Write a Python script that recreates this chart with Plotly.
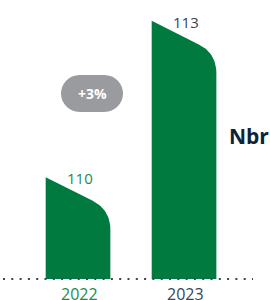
import numpy as np
import plotly.graph_objects as go

years = ["2022", "2023"]
values = [110, 113]
label_colors = ["#1f8a4c", "#34465a"]
change_label = "+3%"
unit_label = "Nbr"

GREEN = "#007A3E"
W, H = 270, 300
ML, MR, MT, MB = 0, 0, 0, 21
XR = [-0.736, 1.811]
YR = [108.05, 113.4]
px_x = (W - ML - MR) / (XR[1] - XR[0])
px_y = (H - MT - MB) / (YR[1] - YR[0])

fig = go.Figure()
bw = 0.61
slope = 0.5 * px_x / px_y  # y units per x unit
for i, (yr, v) in enumerate(zip(years, values)):
    c = i
    L, R = c - bw / 2, c + bw / 2
    base = YR[0]
    xs = [L, L]
    ys = [base, v]
    sx = L + 0.72 * bw
    sy = v - slope * 0.72 * bw
    cx, cy = R, v - slope * bw
    ex, ey = R, cy - 20 / px_y
    t = np.linspace(0, 1, 24)
    bx = (1 - t) ** 2 * sx + 2 * (1 - t) * t * cx + t ** 2 * ex
    by = (1 - t) ** 2 * sy + 2 * (1 - t) * t * cy + t ** 2 * ey
    xs += list(bx) + [R, L]
    ys += list(by) + [base, base]
    fig.add_trace(go.Scatter(x=xs, y=ys, fill="toself", fillcolor=GREEN,
                             mode="lines", line=dict(width=0, color=GREEN),
                             hoverinfo="skip", showlegend=False))
    fig.add_annotation(x=c, y=v, text=str(v), showarrow=False, xshift=2, yshift=-1,
                       xanchor="center", yanchor="middle",
                       font=dict(size=15, color=label_colors[i], family="Open Sans"))
    fig.add_annotation(x=c, y=0, yref="paper", text=yr, showarrow=False, xshift=1,
                       xanchor="center", yanchor="top", yshift=-2,
                       font=dict(size=16, color=label_colors[i], family="Open Sans"))

# dotted baseline
fig.add_shape(type="line", xref="paper", yref="paper", x0=3 / W, x1=253 / W, y0=0, y1=0,
              line=dict(color="#34465a", width=2, dash="2px,6.3px"))

# pill
r, hw = 18.5, 12.5
k = 0.5523 * r
path = (f"M {-hw},{-r} L {hw},{-r} "
        f"C {hw + k},{-r} {hw + r},{-k} {hw + r},0 "
        f"C {hw + r},{k} {hw + k},{r} {hw},{r} "
        f"L {-hw},{r} "
        f"C {-hw - k},{r} {-hw - r},{k} {-hw - r},0 "
        f"C {-hw - r},{-k} {-hw - k},{-r} {-hw},{-r} Z")
pcx, pcy = 92, 93.5
fig.add_shape(type="path", xref="paper", yref="paper", xsizemode="pixel", ysizemode="pixel",
              xanchor=(pcx - ML) / (W - ML - MR), yanchor=1 - (pcy - MT) / (H - MT - MB),
              path=path, fillcolor="#9a9b9f", line=dict(width=0), layer="above")
fig.add_annotation(xref="paper", yref="paper", x=(pcx - ML) / (W - ML - MR),
                   y=1 - (pcy - MT) / (H - MT - MB), text=f"<b>{change_label}</b>", showarrow=False,
                   xanchor="center", yanchor="middle",
                   font=dict(size=14, color="white", family="Open Sans"))

fig.add_annotation(xref="paper", yref="paper", x=249 / W, y=1 - 136 / (H - MB),
                   text=f"<b>{unit_label}</b>", showarrow=False,
                   xanchor="center", yanchor="middle",
                   font=dict(size=21, color="#0f2437", family="Open Sans"))

fig.update_layout(width=W, height=H, margin=dict(l=ML, r=MR, t=MT, b=MB, pad=0),
                  paper_bgcolor="white", plot_bgcolor="white", showlegend=False,
                  xaxis=dict(range=XR, visible=False, fixedrange=True),
                  yaxis=dict(range=YR, visible=False, fixedrange=True))
fig.write_html("out.html", config={"displayModeBar": False},
               post_script="document.body.style.margin='0px';document.body.style.overflow='hidden';")
